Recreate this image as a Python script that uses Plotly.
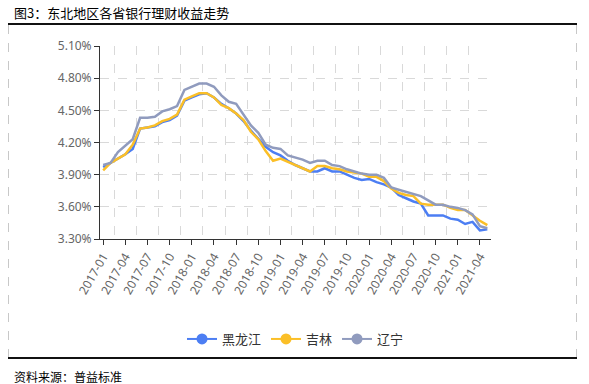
import plotly.graph_objects as go

# ---------------- data ----------------
months = []
for y in range(2017, 2022):
    for m in range(1, 13):
        if y == 2021 and m > 5:
            break
        months.append(f"{y}-{m:02d}")

heilongjiang = [3.97, 4.01, 4.05, 4.09, 4.14, 4.33, 4.34, 4.35, 4.39, 4.41,
                4.45, 4.59, 4.62, 4.65, 4.66, 4.62, 4.56, 4.52, 4.47, 4.40,
                4.31, 4.23, 4.16, 4.11, 4.08, 4.03, 3.99, 3.96, 3.93, 3.93,
                3.96, 3.93, 3.93, 3.90, 3.87, 3.85, 3.86, 3.83, 3.81, 3.78,
                3.71, 3.68, 3.65, 3.63, 3.52, 3.52, 3.52, 3.49, 3.48, 3.44,
                3.46, 3.38, 3.39]
jilin = [3.94, 4.01, 4.05, 4.09, 4.18, 4.33, 4.34, 4.36, 4.40, 4.42,
         4.46, 4.60, 4.63, 4.66, 4.66, 4.62, 4.55, 4.52, 4.47, 4.41,
         4.30, 4.23, 4.12, 4.03, 4.05, 4.02, 3.99, 3.96, 3.93, 3.98,
         3.98, 3.96, 3.95, 3.93, 3.92, 3.91, 3.88, 3.88, 3.84, 3.77,
         3.73, 3.71, 3.70, 3.63, 3.62, 3.62, 3.62, 3.59, 3.57, 3.57,
         3.52, 3.47, 3.43]
liaoning = [3.99, 4.01, 4.11, 4.17, 4.23, 4.43, 4.43, 4.44, 4.49, 4.51,
            4.54, 4.69, 4.72, 4.75, 4.75, 4.72, 4.64, 4.58, 4.56, 4.46,
            4.36, 4.29, 4.18, 4.15, 4.14, 4.08, 4.06, 4.04, 4.01, 4.03,
            4.03, 3.99, 3.98, 3.95, 3.93, 3.91, 3.90, 3.90, 3.87, 3.78,
            3.76, 3.74, 3.72, 3.70, 3.66, 3.62, 3.62, 3.60, 3.59, 3.57,
            3.53, 3.42, 3.40]

series_names = ["黑龙江", "吉林", "辽宁"]
series_values = [heilongjiang, jilin, liaoning]
colors = ["#4C7EF3", "#FBBF27", "#909BBE"]

y_ticks = [3.30, 3.60, 3.90, 4.20, 4.50, 4.80, 5.10]
y_tick_labels = [f"{v:.2f}%" for v in y_ticks]

title_text = "图3：东北地区各省银行理财收益走势"
source_text = "资料来源：普益标准"

# ---------------- geometry ----------------
W, H = 589, 384
L, R, T, B = 100, 491, 46, 239  # plot area in px


def px_x(p):  # page px -> paper
    return (p - L) / (R - L)


def px_y(p):
    return (B - p) / (B - T)


idx = list(range(len(months)))
tick_idx = idx[::3]
tick_txt = [months[i] for i in tick_idx]
grid_idx = [i + 1.5 for i in tick_idx]

fig = go.Figure()
for name, vals, c in zip(series_names, series_values, colors):
    fig.add_trace(go.Scatter(x=idx, y=vals, mode="lines", name=name,
                             line=dict(color=c, width=2.5),
                             showlegend=False, hoverinfo="skip"))
for name, c in zip(series_names, colors):
    fig.add_trace(go.Scatter(x=[None], y=[None], mode="lines+markers", name=name,
                             line=dict(color=c, width=2),
                             marker=dict(color=c, size=11),
                             showlegend=True))

axis_font = dict(family="Noto Sans, DejaVu Sans, sans-serif", size=12, color="#666666")

fig.update_layout(
    width=W, height=H, autosize=False,
    margin=dict(l=L, r=W - R, t=T, b=H - B, pad=0),
    paper_bgcolor="white", plot_bgcolor="white",
    showlegend=True,
    legend=dict(orientation="h", x=0.5, xanchor="center",
                y=px_y(339), yanchor="middle",
                font=dict(family="Noto Sans CJK SC", size=13, color="#333333"),
                itemwidth=30, tracegroupgap=0,
                bgcolor="rgba(0,0,0,0)"),
    xaxis=dict(range=[-0.43, 52.5], tickmode="array", tickvals=tick_idx,
               ticktext=tick_txt, tickangle=-60, tickfont=axis_font,
               showgrid=False, zeroline=False,
               showline=True, linecolor="#333333", linewidth=1,
               ticks="outside", ticklen=5, tickcolor="#333333",
               minor=dict(tickmode="array", tickvals=grid_idx, showgrid=True,
                          gridcolor="#D9D9D9", griddash="dash", gridwidth=1,
                          ticks="")),
    yaxis=dict(range=[3.30, 5.10], tickmode="array", tickvals=y_ticks,
               ticktext=y_tick_labels, tickfont=axis_font,
               showgrid=True, gridcolor="#D9D9D9", griddash="dash", gridwidth=1,
               zeroline=False, showline=True, linecolor="#333333", linewidth=1,
               ticks="outside", ticklen=5, tickcolor="#333333"),
)

# frame lines
fig.add_shape(type="line", xref="paper", yref="paper",
              x0=px_x(8), x1=px_x(577), y0=px_y(24), y1=px_y(24),
              line=dict(color="#111111", width=2))
fig.add_shape(type="line", xref="paper", yref="paper",
              x0=px_x(8), x1=px_x(577), y0=px_y(358), y1=px_y(358),
              line=dict(color="#111111", width=2))
for xp in (8.5, 576.5):
    fig.add_shape(type="line", xref="paper", yref="paper",
                  x0=px_x(xp), x1=px_x(xp), y0=px_y(25), y1=px_y(357),
                  line=dict(color="#C8C8C8", width=1, dash="dash"))

fig.add_annotation(text=title_text, xref="paper", yref="paper",
                   x=px_x(12), y=px_y(12.5), xanchor="left", yanchor="middle",
                   showarrow=False,
                   font=dict(family="Noto Sans CJK SC", size=13, color="#000000"))
fig.add_annotation(text=source_text, xref="paper", yref="paper",
                   x=px_x(12), y=px_y(376), xanchor="left", yanchor="middle",
                   showarrow=False,
                   font=dict(family="Noto Sans CJK SC", size=12, color="#000000"))

fig.write_html("out.html",
               config={"displayModeBar": False, "staticPlot": True},
               post_script="document.body.style.margin='0px';"
                           "document.body.style.overflow='hidden';")
